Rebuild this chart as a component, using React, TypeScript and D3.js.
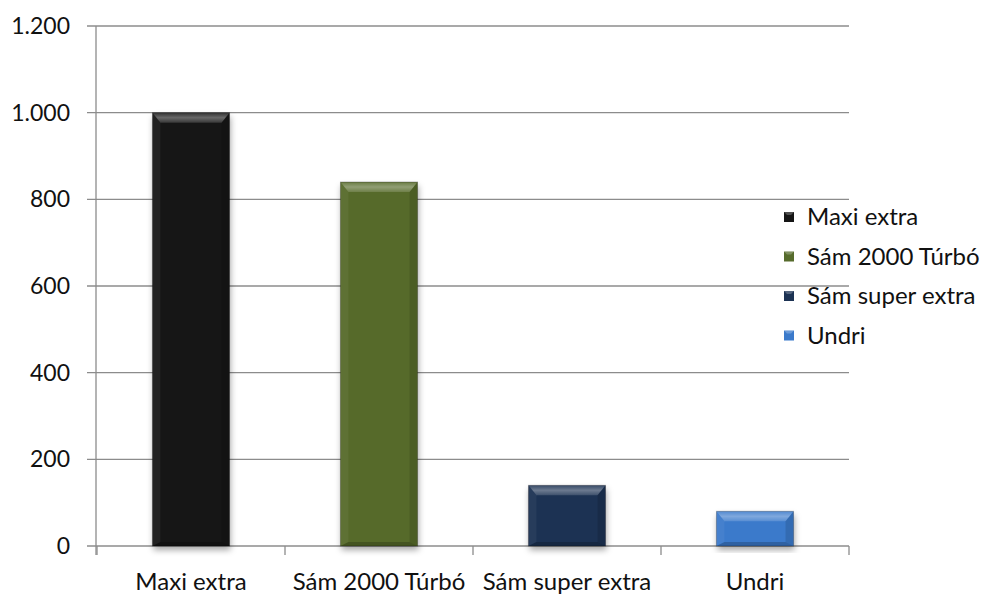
import React from "react";
import * as d3 from "d3";

const categories = ["Maxi extra", "Sám 2000 Túrbó", "Sám super extra", "Undri"];
const values = [1000, 840, 140, 80];
const colors = ["#151515", "#566b2c", "#1c3253", "#3b7acb"];
const yTicks = [0, 200, 400, 600, 800, 1000, 1200];
const yTickLabels = ["0", "200", "400", "600", "800", "1.000", "1.200"];

const W = 984, H = 598;
const left = 97, right = 849, top = 26, bottom = 546;
const FONT = "Lato, 'Liberation Sans', sans-serif";

export default function App() {
  const x = d3.scaleBand<string>().domain(categories).range([left, right]).padding(0);
  const y = d3.scaleLinear().domain([0, 1200]).range([bottom, top]);
  const bw = x.bandwidth() * 0.41;
  const grid = "#8c8c8c";
  return (
    <svg width={W} height={H} style={{ position: "absolute", left: 0, top: 0 }} fontFamily={FONT}>
      <defs>
        <filter id="sh" x="-20%" y="-20%" width="140%" height="140%">
          <feDropShadow dx="1" dy="4" stdDeviation="3" floodColor="#000" floodOpacity="0.35" />
        </filter>
        <linearGradient id="topg" x1="0" y1="0" x2="0" y2="1">
          <stop offset="0" stopColor="#fff" stopOpacity="0.12" />
          <stop offset="0.5" stopColor="#fff" stopOpacity="0.35" />
          <stop offset="1" stopColor="#fff" stopOpacity="0.15" />
        </linearGradient>
      </defs>
      {yTicks.map((t, i) => (
        <g key={t}>
          <line x1={left - 10} x2={right} y1={y(t)} y2={y(t)} stroke={grid} strokeWidth={1.3} />
          <text x={70} y={y(t)} dy="0.35em" textAnchor="end" fontSize={23} fill="#111">
            {yTickLabels[i]}
          </text>
        </g>
      ))}
      <line x1={left - 1} x2={left - 1} y1={top} y2={bottom + 9} stroke={grid} strokeWidth={1.3} />
      {[...categories.map((c) => x(c)!), right].map((px, i) => (
        <line key={i} x1={px} x2={px} y1={bottom} y2={bottom + 9} stroke={grid} strokeWidth={1.3} />
      ))}
      {categories.map((c, i) => {
        const bx = x(c)! + (x.bandwidth() - bw) / 2;
        const by = y(values[i]);
        const bh = bottom - by;
        const d = Math.min(10, bh / 3);
        const s = Math.min(8, bw / 4);
        return (
          <g key={c}>
            <rect x={bx} y={by} width={bw} height={bh} fill={colors[i]} filter="url(#sh)" />
            <polygon points={`${bx},${by} ${bx + bw},${by} ${bx + bw - s},${by + d} ${bx + s},${by + d}`} fill="url(#topg)" />
            <polygon points={`${bx},${by} ${bx + s},${by + d} ${bx + s},${by + bh - 4} ${bx},${by + bh}`} fill="#fff" opacity={0.05} />
            <polygon points={`${bx + bw},${by} ${bx + bw - s},${by + d} ${bx + bw - s},${by + bh - 4} ${bx + bw},${by + bh}`} fill="#000" opacity={0.12} />
            <polygon points={`${bx},${by + bh} ${bx + s},${by + bh - 4} ${bx + bw - s},${by + bh - 4} ${bx + bw},${by + bh}`} fill="#000" opacity={0.2} />
            <rect x={bx} y={by} width={bw} height={bh} fill="none" stroke="#000" strokeOpacity={0.25} strokeWidth={1} />
          </g>
        );
      })}
      {categories.map((c) => (
        <text key={c} x={x(c)! + x.bandwidth() / 2} y={582} dy="0.35em" textAnchor="middle" fontSize={24} fill="#111">
          {c}
        </text>
      ))}
      {categories.map((c, i) => {
        const ly = 217 + i * 39.5;
        return (
          <g key={c}>
            <rect x={784} y={ly - 5} width={10} height={10} fill={colors[i]} />
            <polygon points={`${784},${ly - 5} ${794},${ly - 5} ${791},${ly - 2} ${787},${ly - 2}`} fill="#fff" opacity={0.25} />
            <text x={807} y={ly} dy="0.35em" fontSize={24} fill="#111">{c}</text>
          </g>
        );
      })}
    </svg>
  );
}
